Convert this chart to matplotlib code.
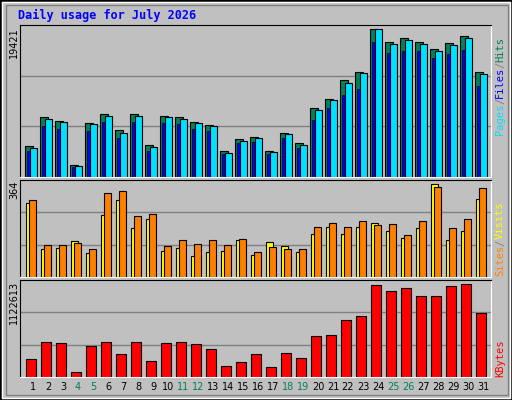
import matplotlib.pyplot as plt
from matplotlib.patches import Rectangle

days = list(range(1, 32))
weekend = [4, 5, 11, 12, 18, 19, 25, 26]

# values
hits = [4130, 7930, 7390, 1630, 7120, 8330, 6160, 8330, 4260, 8060,
        7930, 7250, 6850, 3430, 5050, 5320, 3430, 5850, 4530, 9070,
        10290, 12790, 13850, 19421, 17800, 18330, 17800, 16860, 17670, 18530, 13850]
files = [3480, 6720, 6320, 1360, 6060, 7250, 5190, 7250, 3480, 7120,
         6990, 6320, 6060, 2970, 4530, 4660, 2970, 5190, 3760, 7510,
         9100, 10820, 11610, 17800, 16340, 16610, 16610, 15680, 16210, 16740, 12000]
pages = [3780, 7650, 7250, 1500, 6990, 8060, 5850, 8060, 3990, 7930,
         7650, 7120, 6720, 3160, 4790, 5190, 3300, 5590, 4260, 8790,
         10150, 12390, 13710, 19421, 17540, 18060, 17540, 16610, 17410, 18230, 13540]
visits = [290, 111, 112, 142, 94, 242, 302, 190, 226, 103,
          115, 83, 99, 103, 143, 87, 139, 123, 99, 170,
          195, 167, 194, 211, 179, 151, 190, 364, 143, 182, 306]
sites = [302, 127, 127, 135, 111, 330, 338, 240, 248, 123,
         146, 131, 143, 127, 147, 99, 119, 111, 111, 195,
         211, 195, 219, 203, 207, 163, 219, 352, 190, 226, 348]
kbytes = [213000, 422000, 410000, 66000, 373000, 422000, 275000, 422000, 189000, 410000,
          422000, 397000, 336000, 127000, 176000, 275000, 115000, 287000, 225000, 496000,
          508000, 692000, 741000, 1110000, 1037000, 1074000, 975000, 975000, 1098000, 1122613, 778000]

W, H = 512, 400
BG = '#C0C0C0'
fig = plt.figure(figsize=(5.12, 4.0), dpi=100, facecolor=BG)


def fbox(x0, y0, x1, y1):
    # pixel box (top-left origin) -> figure fraction
    return [x0 / W, 1 - y1 / H, (x1 - x0) / W, (y1 - y0) / H]


# bevel around figure
fig.patches.append(Rectangle((0, 0), 1, 1, transform=fig.transFigure, fill=False,
                             edgecolor='black', lw=2))
fig.patches.append(Rectangle((2 / W, 2 / H), 1 - 4 / W, 1 - 4 / H, transform=fig.transFigure,
                             fill=False, edgecolor='white', lw=1))
fig.patches.append(Rectangle((6 / W, 5 / H), 1 - 10 / W, 1 - 10 / H, transform=fig.transFigure,
                             fill=False, edgecolor='#808080', lw=1))

fig.text(18 / W, 1 - 15 / H, 'Daily usage for July 2026', color='#0000FF', fontsize=8.5,
         fontweight='bold', family='DejaVu Sans Mono', va='center')

panels = [(25, 177), (180, 277), (280, 377)]
axes = []
for (y0, y1) in panels:
    ax = fig.add_axes(fbox(20, y0, 491, y1), facecolor=BG)
    ax.set_xlim(-1 / 3, 31.4 - 1 / 3)
    ax.set_xticks([])
    ax.set_yticks([])
    for s in ['top', 'left']:
        ax.spines[s].set_color('black')
    for s in ['bottom', 'right']:
        ax.spines[s].set_color('white')
    axes.append(ax)

px = 1 / 15.0
x0 = [d - 1 for d in days]


def grid(ax, top):
    for f in (1 / 3, 2 / 3):
        ax.axhline(top * f, color='#808080', lw=1, zorder=0)


# top panel
ax = axes[0]
top1 = 19421 * 455 / 442
ax.set_ylim(0, top1)
grid(ax, top1)
ax.bar([x for x in x0], hits, width=7.7 * px, align='edge', color='#00805C', edgecolor='black', lw=0.8)
ax.bar([x + 2.3 * px for x in x0], files, width=2.4 * px, align='edge', color='#0000FF', edgecolor='black', lw=0.5)
ax.bar([x + 4.7 * px for x in x0], pages, width=7 * px, align='edge', color='#00E0FF', edgecolor='black', lw=0.8)

# middle panel
ax = axes[1]
top2 = 364 * 288 / 276
ax.set_ylim(0, top2)
grid(ax, top2)
ax.bar([x + 0.7 * px for x in x0], visits, width=7 * px, align='edge', color='#FFFF00', edgecolor='black', lw=0.8)
ax.bar([x + 4.3 * px for x in x0], sites, width=7 * px, align='edge', color='#FF8000', edgecolor='black', lw=0.8)

# bottom panel
ax = axes[2]
top3 = 1122613 * 286 / 274
ax.set_ylim(0, top3)
grid(ax, top3)
ax.bar([x + 1.3 * px for x in x0], kbytes, width=10 * px, align='edge', color='#FF0000', edgecolor='black', lw=0.8)

# day labels
for d in days:
    ax.text(d - 1 + 8 * px, -0.1, str(d), transform=ax.get_xaxis_transform(),
            ha='center', va='center', fontsize=7, color='#00805C' if d in weekend else 'black')

# left max labels
fig.text(14 / W, 1 - 27 / H, '19421', rotation=90, fontsize=7, ha='center', va='top')
fig.text(14 / W, 1 - 181 / H, '364', rotation=90, fontsize=7, ha='center', va='top')
fig.text(14 / W, 1 - 281 / H, '1122613', rotation=90, fontsize=7, ha='center', va='top')


def side(parts, ybottom):
    y = ybottom
    for txt, col in parts:
        t = fig.text(500 / W, 1 - y / H, txt, rotation=90, fontsize=7.5, color=col,
                     family='DejaVu Sans Mono', ha='center', va='bottom')
        y -= len(txt) * 6.1


side([('Pages', '#00E0FF'), ('/', '#808080'), ('Files', '#0000FF'), ('/', '#808080'), ('Hits', '#00805C')], 135)
side([('Sites', '#FF8000'), ('/', '#808080'), ('Visits', '#FFFF00')], 276)
side([('KBytes', '#FF0000')], 377)

fig.savefig('out.png', dpi=100, facecolor=BG)
